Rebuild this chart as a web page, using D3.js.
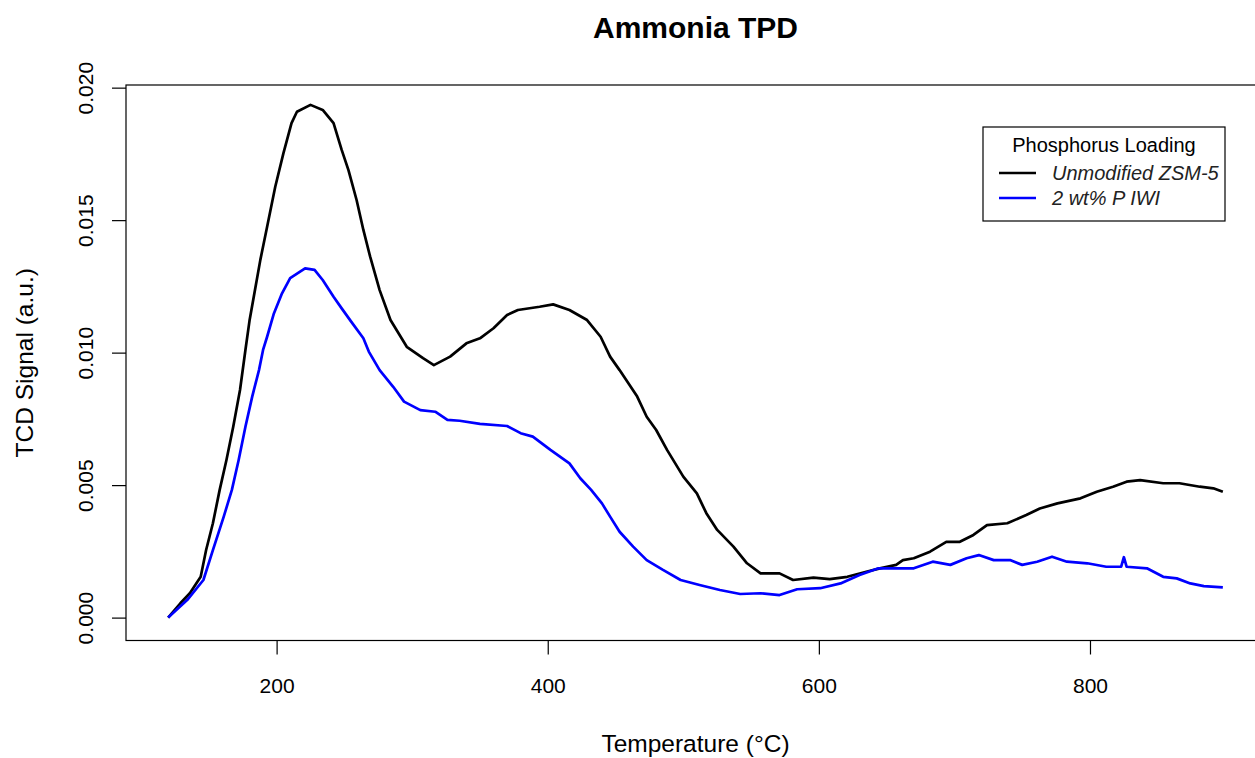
<!DOCTYPE html>
<html>
<head>
<meta charset="utf-8">
<script src="https://cdn.jsdelivr.net/npm/d3@7"></script>
<style>
  body { margin: 0; background: #fff; }
  text { font-family: "Liberation Sans", Arial, sans-serif; }
</style>
</head>
<body>
<svg id="chart"></svg>
<script>
const width = 1255;
const height = 758;

// Unmodified ZSM-5 (black) - temperature (°C) and TCD signal
const zsmTemp = [120, 129, 136, 144, 148, 153, 158, 163, 168, 173, 177, 180, 188, 193, 199, 205, 211, 215, 225, 234,
  242, 248, 253, 259, 264, 269, 276, 284, 296, 308, 316, 328, 340, 350, 360, 370, 378, 394, 404, 416,
  429, 439, 446, 453, 466, 473, 480, 488, 500, 510, 517, 525, 537, 547, 557, 571, 581, 596, 608, 621,
  635, 645, 657, 662, 670, 682, 694, 704, 714, 724, 739, 753, 763, 776, 793, 805, 817, 827, 837, 854,
  866, 881, 891, 898];
const zsmSignal = [0.0000, 0.00054, 0.00092, 0.00154, 0.00255, 0.00356, 0.00482, 0.00595, 0.00720, 0.00859, 0.01010, 0.01120, 0.01350, 0.01475, 0.01626, 0.01752, 0.01866, 0.01909, 0.01935, 0.01916,
  0.01866, 0.01765, 0.01689, 0.01576, 0.01463, 0.01362, 0.01236, 0.01123, 0.01022, 0.00979, 0.00953, 0.00985, 0.01035, 0.01054, 0.01092, 0.01142, 0.01161, 0.01173, 0.01182, 0.01161,
  0.01123, 0.01060, 0.00985, 0.00934, 0.00834, 0.00758, 0.00708, 0.00633, 0.00532, 0.00469, 0.00394, 0.00331, 0.00268, 0.00205, 0.00167, 0.00167, 0.00142, 0.00151, 0.00145, 0.00154,
  0.00173, 0.00186, 0.00199, 0.00217, 0.00224, 0.00249, 0.00286, 0.00286, 0.00312, 0.00349, 0.00356, 0.00387, 0.00412, 0.00431, 0.00450, 0.00475, 0.00494, 0.00513, 0.00519, 0.00507,
  0.00507, 0.00494, 0.00488, 0.00475];

// 2 wt% P IWI (blue)
const iwiTemp = [120, 134, 146, 153, 161, 167, 172, 177, 182, 187, 190, 193, 198, 204, 210, 221, 228, 234, 242, 248,
  255, 264, 268, 276, 286, 294, 306, 317, 326, 335, 350, 370, 380, 389, 402, 416, 424, 432, 440, 446,
  453, 463, 473, 485, 498, 512, 527, 542, 557, 571, 584, 601, 616, 630, 644, 670, 684, 697, 709, 718,
  729, 741, 750, 761, 772, 783, 798, 812, 823, 825, 827, 842, 854, 864, 874, 884, 898];
const iwiSignal = [0.0000, 0.00066, 0.00142, 0.00255, 0.00381, 0.00482, 0.00595, 0.00720, 0.00834, 0.00934, 0.01010, 0.01060, 0.01148, 0.01224, 0.01281, 0.01318, 0.01312, 0.01274, 0.01211, 0.01167,
  0.01117, 0.01054, 0.01004, 0.00934, 0.00871, 0.00815, 0.00783, 0.00777, 0.00746, 0.00743, 0.00731, 0.00723, 0.00696, 0.00683, 0.00633, 0.00582, 0.00526, 0.00482, 0.00431, 0.00381,
  0.00324, 0.00268, 0.00217, 0.00180, 0.00142, 0.00123, 0.00104, 0.00089, 0.00092, 0.00085, 0.00107, 0.00111, 0.00129, 0.00161, 0.00186, 0.00186, 0.00211, 0.00199, 0.00224, 0.00236,
  0.00217, 0.00217, 0.00199, 0.00211, 0.00230, 0.00211, 0.00205, 0.00192, 0.00192, 0.00228, 0.00192, 0.00186, 0.00154, 0.00148, 0.00129, 0.00119, 0.00114];

const xTicks = [200, 400, 600, 800];
const yTicks = [0, 0.005, 0.010, 0.015, 0.020];
const seriesNames = ["Unmodified ZSM-5", "2 wt% P IWI"];
const seriesColors = ["black", "blue"];

const svg = d3.select("#chart")
  .attr("width", width)
  .attr("height", height);

// plot region (right side runs past the picture edge, as in the original)
const plot = { left: 126, right: 1265, top: 85, bottom: 640.5 };

const xScale = d3.scaleLinear()
  .domain([88.9, 929.1])
  .range([plot.left, plot.right]);

const yScale = d3.scaleLinear()
  .domain([-0.000864, 0.0201])
  .range([plot.bottom, plot.top]);

// frame
svg.append("rect")
  .attr("x", plot.left)
  .attr("y", plot.top)
  .attr("width", plot.right - plot.left)
  .attr("height", plot.bottom - plot.top)
  .attr("fill", "none")
  .attr("stroke", "black")
  .attr("stroke-width", 1.2);

// x axis
const xAxis = d3.axisBottom(xScale)
  .tickValues(xTicks)
  .tickSize(14)
  .tickPadding(24);

const xAxisG = svg.append("g")
  .attr("transform", `translate(0,${plot.bottom})`)
  .call(xAxis);
xAxisG.select(".domain").remove();
xAxisG.selectAll("line").attr("stroke", "black").attr("stroke-width", 1.2);
xAxisG.selectAll("text")
  .attr("font-size", 21)
  .attr("fill", "black")
  .attr("font-family", "Liberation Sans, Arial, sans-serif");

// y axis, labels parallel to the axis
const yAxis = d3.axisLeft(yScale)
  .tickValues(yTicks)
  .tickSize(14)
  .tickFormat(d3.format(".3f"));

const yAxisG = svg.append("g")
  .attr("transform", `translate(${plot.left},0)`)
  .call(yAxis);
yAxisG.select(".domain").remove();
yAxisG.selectAll("line").attr("stroke", "black").attr("stroke-width", 1.2);
yAxisG.selectAll("text")
  .attr("x", null)
  .attr("dy", null)
  .attr("font-size", 21)
  .attr("fill", "black")
  .attr("font-family", "Liberation Sans, Arial, sans-serif")
  .attr("text-anchor", "middle")
  .attr("transform", "translate(-33,0) rotate(-90)");

// titles
svg.append("text")
  .attr("x", (plot.left + plot.right) / 2)
  .attr("y", 38)
  .attr("text-anchor", "middle")
  .attr("font-size", 30)
  .attr("font-weight", "bold")
  .text("Ammonia TPD");

svg.append("text")
  .attr("x", (plot.left + plot.right) / 2)
  .attr("y", 752)
  .attr("text-anchor", "middle")
  .attr("font-size", 24.5)
  .text("Temperature (°C)");

svg.append("text")
  .attr("transform", `translate(33,${(plot.top + plot.bottom) / 2}) rotate(-90)`)
  .attr("text-anchor", "middle")
  .attr("font-size", 24.5)
  .text("TCD Signal (a.u.)");

// curves
const line = d3.line()
  .x(d => xScale(d[0]))
  .y(d => yScale(d[1]));

const series = [
  d3.zip(zsmTemp, zsmSignal),
  d3.zip(iwiTemp, iwiSignal)
];

series.forEach((s, i) => {
  svg.append("path")
    .datum(s)
    .attr("fill", "none")
    .attr("stroke", seriesColors[i])
    .attr("stroke-width", 2.7)
    .attr("stroke-linejoin", "round")
    .attr("d", line);
});

// legend
const legend = svg.append("g")
  .attr("transform", "translate(983,127)");

legend.append("rect")
  .attr("width", 242)
  .attr("height", 94)
  .attr("fill", "white")
  .attr("stroke", "black")
  .attr("stroke-width", 1.2);

legend.append("text")
  .attr("x", 121)
  .attr("y", 25)
  .attr("text-anchor", "middle")
  .attr("font-size", 20)
  .text("Phosphorus Loading");

seriesNames.forEach((name, i) => {
  legend.append("line")
    .attr("x1", 16)
    .attr("x2", 53)
    .attr("y1", 46 + i * 25)
    .attr("y2", 46 + i * 25)
    .attr("stroke", seriesColors[i])
    .attr("stroke-width", 2.7);
  legend.append("text")
    .attr("x", 69)
    .attr("y", 53 + i * 25)
    .attr("font-size", 20)
    .attr("font-style", "italic")
    .attr("fill", "#222")
    .text(name);
});
</script>
</body>
</html>
